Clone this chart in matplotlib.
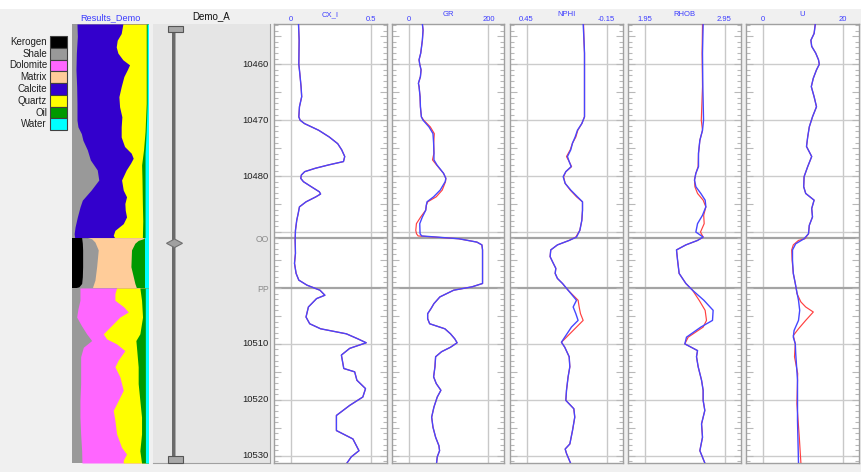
import numpy as np
import matplotlib
matplotlib.use('Agg')
import matplotlib.pyplot as plt
from matplotlib.patches import Rectangle, Polygon
from matplotlib.ticker import MultipleLocator
from matplotlib.transforms import blended_transform_factory

plt.rcParams['font.family'] = ['Liberation Sans', 'DejaVu Sans']

W, H = 861, 472
D_TOP, D_BOT = 10452.8, 10531.3

# ---------------- legend / lithology ----------------
litho_names = ['Kerogen', 'Shale', 'Dolomite', 'Matrix', 'Calcite', 'Quartz', 'Oil', 'Water']
litho_colors = ['#000000', '#999999', '#ff66ff', '#ffcc99', '#3300cc', '#ffff00', '#009900', '#00ffff']
C = dict(zip(litho_names, litho_colors))

# cumulative volume edges (% of track width), upper zone (above OO)
up_shale_d = [10452.8, 10455.0, 10458.0, 10461.0, 10464.0, 10467.0, 10470.0, 10471.2, 10472.4, 10473.6, 10475.3,
              10477.1, 10478.9, 10480.7, 10482.5, 10484.3, 10485.5, 10487.3, 10489.1, 10490.3, 10491.0]
up_shale_v = [6.5, 7.0, 5.7, 5.2, 6.1, 6.5, 6.5, 7.8, 12.2, 14.3, 20.0, 24.0, 33.0, 35.0, 25.0, 13.5, 10.5, 7.0,
              4.0, 2.8, 3.5]
up_calcite_d = [10452.8, 10454.5, 10455.7, 10456.9, 10458.0, 10459.2, 10460.1, 10461.0, 10462.2, 10464.0, 10465.8,
                10467.6, 10469.4, 10471.2, 10473.0, 10474.7, 10475.9, 10476.8, 10477.7, 10478.9, 10480.7, 10482.5,
                10483.7, 10484.9, 10486.1, 10487.3, 10488.5, 10489.7, 10490.6, 10491.0]
up_calcite_v = [66.5, 64.3, 59.1, 57.8, 60.0, 66.5, 75.2, 72.2, 67.8, 64.3, 61.3, 62.2, 65.2, 64.3, 64.3, 68.7,
                77.4, 80.0, 76.5, 70.9, 64.8, 67.0, 71.3, 69.1, 69.6, 71.3, 67.0, 56.1, 53.9, 55.7]
up_quartz_d = [10452.8, 10467.0, 10472.0, 10475.3, 10478.0, 10480.7, 10485.0, 10488.0, 10491.0]
up_quartz_v = [97.0, 97.0, 95.5, 93.5, 91.0, 91.5, 92.0, 92.5, 92.0]
up_oil_d = [10452.8, 10467.0, 10472.0, 10475.9, 10491.0]
up_oil_v = [98.3, 98.3, 97.0, 95.5, 95.5]

# middle zone (OO - PP)
mid_kerogen_d = [10491.0, 10492.0, 10493.2, 10496.2, 10498.0, 10499.2, 10499.8, 10500.0]
mid_kerogen_v = [12.6, 13.5, 13.9, 13.9, 13.5, 12.6, 9.0, 3.0]
mid_shale_d = [10491.0, 10491.2, 10491.8, 10493.2, 10496.2, 10498.6, 10499.8, 10500.0]
mid_shale_v = [20.0, 25.7, 30.0, 34.3, 32.2, 30.0, 27.0, 27.0]
mid_matrix_d = [10491.0, 10491.2, 10491.5, 10492.0, 10493.2, 10496.2, 10499.2, 10500.0]
mid_matrix_v = [95.0, 93.0, 86.5, 82.2, 77.8, 77.0, 82.2, 84.3]
mid_oil_d = [10491.0, 10500.0]
mid_oil_v = [95.2, 95.2]

# lower zone (below PP)
low_shale_d = [10500.0, 10502.2, 10503.7, 10505.2, 10506.7, 10508.2, 10509.4, 10510.6, 10512.3, 10517.1, 10520.1,
               10523.1, 10526.1, 10529.1, 10531.3]
low_shale_v = [10.4, 10.4, 7.8, 6.1, 12.2, 19.1, 25.7, 14.8, 11.3, 11.3, 10.4, 10.4, 11.3, 12.6, 13.0]
low_dolomite_d = [10500.0, 10501.0, 10502.2, 10503.4, 10504.3, 10505.2, 10507.0, 10508.2, 10509.1, 10510.0,
                  10511.2, 10512.9, 10514.1, 10515.9, 10518.3, 10520.7, 10521.9, 10523.7, 10526.1, 10528.5,
                  10529.7, 10530.8, 10531.3]
low_dolomite_v = [58.3, 56.1, 56.1, 67.8, 73.5, 62.6, 49.6, 40.9, 45.2, 58.3, 69.1, 60.4, 56.1, 62.6, 67.0, 58.3,
                  53.9, 56.1, 58.3, 64.8, 71.3, 67.0, 67.0]
low_quartz_d = [10500.0, 10502.2, 10505.2, 10508.2, 10509.4, 10510.6, 10514.1, 10517.1, 10520.1, 10523.1, 10526.1,
                10529.1, 10531.3]
low_quartz_v = [88.7, 90.9, 92.2, 88.7, 83.5, 84.3, 86.5, 86.5, 88.7, 90.9, 90.9, 88.7, 90.9]
low_oil_d = [10500.0, 10531.3]
low_oil_v = [95.8, 96.0]

# ---------------- log curves ----------------
track_names = ['CX_I', 'GR', 'NPHI', 'RHOB', 'U']
track_scales = [(0, 0.5), (0, 200), (0.45, -0.15), (1.95, 2.95), (0, 20)]
scale_labels = [('0', '0.5'), ('0', '200'), ('0.45', '-0.15'), ('1.95', '2.95'), ('0', '20')]

cx_d = [10452.8, 10455.7, 10460.0, 10461.6, 10464.0, 10465.8, 10467.6, 10469.4, 10470.0, 10470.6, 10471.8,
        10473.0, 10474.2, 10475.3, 10476.5, 10477.4, 10478.0, 10478.6, 10479.2, 10479.8, 10480.4, 10481.0,
        10481.9, 10482.8, 10483.2, 10483.7, 10484.6, 10485.5, 10486.7, 10487.9, 10489.7, 10491.5, 10493.8,
        10495.6, 10497.4, 10498.6, 10499.5, 10500.4, 10501.3, 10501.9, 10503.4, 10505.2, 10506.4, 10507.3,
        10508.2, 10509.1, 10509.8, 10510.8, 10512.0, 10514.4, 10515.0, 10516.5, 10518.0, 10519.5, 10521.0,
        10522.8, 10525.5, 10527.0, 10529.1, 10530.2, 10531.3]
cx_v = [0.050, 0.054, 0.052, 0.058, 0.066, 0.070, 0.056, 0.052, 0.060, 0.087, 0.176, 0.242, 0.295, 0.320, 0.339,
        0.331, 0.238, 0.155, 0.089, 0.068, 0.064, 0.081, 0.130, 0.180, 0.188, 0.159, 0.097, 0.056, 0.048, 0.039,
        0.031, 0.029, 0.031, 0.025, 0.035, 0.052, 0.103, 0.184, 0.215, 0.163, 0.112, 0.097, 0.120, 0.188, 0.349,
        0.421, 0.473, 0.370, 0.318, 0.333, 0.401, 0.415, 0.469, 0.452, 0.370, 0.287, 0.287, 0.390, 0.428, 0.380,
        0.353]

gr_d = [10452.8, 10453.9, 10455.7, 10458.0, 10459.2, 10460.0, 10461.0, 10462.2, 10463.4, 10464.0, 10465.8,
        10467.6, 10469.4, 10470.0, 10471.2, 10472.4, 10474.1, 10475.9, 10477.1, 10478.0, 10479.5, 10480.4,
        10481.0, 10482.5, 10483.7, 10484.6, 10485.2, 10486.1, 10487.3, 10488.5, 10490.3, 10490.7, 10491.2,
        10491.8, 10492.3, 10493.2, 10499.2, 10499.8, 10500.4, 10501.6, 10502.8, 10503.7, 10504.6, 10505.5,
        10506.4, 10507.3, 10508.2, 10509.1, 10509.8, 10510.6, 10511.4, 10512.3, 10514.1, 10515.9, 10517.1,
        10518.3, 10519.5, 10521.3, 10523.1, 10524.9, 10526.7, 10528.2, 10529.1, 10530.2, 10531.3]
gr_v = [34.7, 36.4, 34.7, 30.6, 26.4, 28.1, 31.4, 29.8, 24.8, 26.4, 28.9, 29.8, 32.2, 36.4, 51.2, 61.2, 62.8,
        63.6, 63.6, 71.1, 87.6, 93.4, 91.7, 79.3, 62.8, 46.3, 44.6, 43.0, 34.7, 28.1, 28.9, 33.0, 125.6, 171.0,
        183.5, 185.1, 185.1, 158.7, 113.0, 78.5, 63.6, 56.2, 47.9, 47.9, 52.9, 90.9, 105.0, 115.7, 121.5, 105.0,
        82.6, 67.8, 66.1, 62.8, 69.4, 81.0, 71.9, 63.6, 57.9, 61.2, 67.8, 76.0, 77.7, 71.9, 70.2]
gr_red_d = [10452.8, 10453.9, 10455.7, 10458.0, 10459.2, 10460.0, 10461.0, 10462.2, 10463.4, 10464.0, 10465.8,
            10467.6, 10469.4, 10470.0, 10471.2, 10472.4, 10474.1, 10475.9, 10477.1, 10478.0, 10479.5, 10480.4,
            10481.0, 10482.5, 10483.7, 10484.6, 10485.2, 10486.1, 10487.3, 10488.5, 10489.7, 10490.3, 10490.7,
            10491.2, 10491.8, 10492.3, 10493.2, 10499.2, 10499.8, 10500.4, 10501.6, 10502.8, 10503.7, 10504.6,
            10505.5, 10506.4, 10507.3, 10508.2, 10509.1, 10509.8, 10510.6, 10511.4, 10512.3, 10514.1, 10515.9,
            10517.1, 10518.3, 10519.5, 10521.3, 10523.1, 10524.9, 10526.7, 10528.2, 10529.1, 10530.2, 10531.3]
gr_red_v = [34.7, 36.4, 34.7, 30.6, 26.4, 28.1, 31.4, 29.8, 24.8, 26.4, 28.9, 29.8, 32.2, 38.0, 54.5, 64.5,
            63.0, 63.6, 60.0, 70.0, 87.6, 93.4, 92.5, 84.3, 69.4, 48.0, 44.6, 43.0, 30.6, 19.8, 18.2, 20.0, 24.0,
            125.6, 171.0, 183.5, 185.1, 185.1, 158.7, 113.0, 78.5, 63.6, 56.2, 47.9, 47.9, 52.9, 90.9, 105.0,
            115.7, 121.5, 105.0, 82.6, 67.8, 66.1, 62.8, 69.4, 81.0, 71.9, 63.6, 57.9, 61.2, 67.8, 76.0, 77.7,
            71.9, 70.2]

nphi_d = [10452.8, 10455.1, 10458.0, 10469.4, 10470.6, 10471.8, 10473.0, 10474.1, 10475.3, 10476.5, 10477.4,
          10478.3, 10479.2, 10480.1, 10481.3, 10482.5, 10483.7, 10484.6, 10486.1, 10487.9, 10489.7, 10490.9,
          10491.5, 10492.3, 10493.2, 10494.4, 10495.3, 10496.5, 10497.4, 10498.3, 10499.2, 10500.4, 10502.2,
          10503.4, 10504.6, 10505.8, 10507.0, 10508.8, 10509.7, 10510.6, 10512.3, 10514.1, 10515.9, 10518.3,
          10520.1, 10521.6, 10523.1, 10525.5, 10527.9, 10528.8, 10529.6, 10531.3]
nphi_v = [0.025, 0.020, 0.015, 0.015, 0.035, 0.068, 0.085, 0.105, 0.118, 0.143, 0.130, 0.115, 0.155, 0.175,
          0.160, 0.118, 0.068, 0.030, 0.030, 0.035, 0.050, 0.075, 0.130, 0.218, 0.268, 0.273, 0.255, 0.230,
          0.235, 0.218, 0.180, 0.138, 0.075, 0.100, 0.080, 0.063, 0.113, 0.163, 0.188, 0.163, 0.130, 0.125,
          0.138, 0.150, 0.155, 0.095, 0.088, 0.105, 0.125, 0.160, 0.150, 0.120]
nphi_red_v = [0.022, 0.020, 0.015, 0.015, 0.035, 0.065, 0.080, 0.105, 0.122, 0.150, 0.130, 0.112, 0.155, 0.172,
              0.160, 0.122, 0.075, 0.030, 0.030, 0.035, 0.050, 0.080, 0.130, 0.218, 0.268, 0.273, 0.255, 0.230,
              0.235, 0.218, 0.180, 0.138, 0.063, 0.055, 0.045, 0.025, 0.075, 0.150, 0.188, 0.163, 0.130, 0.125,
              0.138, 0.150, 0.155, 0.095, 0.088, 0.105, 0.125, 0.160, 0.150, 0.120]

rhob_d = [10452.8, 10458.0, 10464.0, 10470.0, 10471.8, 10473.6, 10475.9, 10478.3, 10479.5, 10480.7, 10481.9,
          10483.1, 10484.3, 10485.5, 10487.0, 10488.5, 10490.0, 10490.9, 10491.5, 10492.3, 10493.2, 10495.0,
          10497.4, 10499.2, 10500.4, 10502.2, 10504.0, 10505.8, 10507.0, 10508.8, 10510.0, 10511.2, 10512.3,
          10514.1, 10516.5, 10518.3, 10520.1, 10521.9, 10524.3, 10526.7, 10529.1, 10531.3]
rhob_v = [2.683, 2.675, 2.679, 2.688, 2.675, 2.642, 2.625, 2.625, 2.592, 2.575, 2.592, 2.654, 2.708, 2.717,
          2.675, 2.613, 2.592, 2.683, 2.613, 2.467, 2.350, 2.363, 2.383, 2.467, 2.550, 2.692, 2.808, 2.800,
          2.654, 2.475, 2.454, 2.613, 2.600, 2.621, 2.663, 2.683, 2.683, 2.704, 2.663, 2.675, 2.642, 2.704]
rhob_red_v = [2.675, 2.670, 2.675, 2.660, 2.675, 2.642, 2.625, 2.620, 2.592, 2.575, 2.580, 2.613, 2.683, 2.717,
              2.690, 2.696, 2.650, 2.683, 2.613, 2.467, 2.350, 2.363, 2.383, 2.467, 2.550, 2.633, 2.708, 2.725,
              2.683, 2.496, 2.454, 2.613, 2.600, 2.621, 2.663, 2.683, 2.683, 2.704, 2.663, 2.675, 2.642, 2.704]

u_d = [10452.8, 10454.5, 10455.7, 10456.8, 10458.0, 10459.2, 10460.0, 10461.0, 10462.5, 10464.0, 10465.8,
       10467.6, 10469.4, 10471.2, 10473.0, 10474.7, 10476.5, 10478.3, 10480.1, 10481.9, 10483.1, 10484.3,
       10485.8, 10487.3, 10488.8, 10490.3, 10491.2, 10492.1, 10493.2, 10495.0, 10497.4, 10499.2, 10500.4,
       10502.2, 10504.0, 10505.8, 10507.6, 10508.8, 10510.0, 10511.7, 10516.5, 10523.7, 10531.3]
u_v = [13.2, 12.9, 12.1, 12.3, 13.3, 14.0, 14.2, 13.5, 12.7, 12.2, 12.9, 13.5, 12.5, 11.7, 11.3, 11.0, 12.3,
       11.3, 10.4, 10.3, 10.8, 12.9, 12.3, 12.5, 11.7, 11.5, 10.4, 8.3, 7.5, 7.5, 7.7, 8.2, 8.5, 9.0, 9.3, 9.0,
       7.9, 7.7, 8.2, 8.3, 8.75, 8.75, 9.0]
u_red_d = [10452.8, 10454.5, 10455.7, 10456.8, 10458.0, 10459.2, 10460.0, 10461.0, 10462.5, 10464.0, 10465.8,
           10467.6, 10469.4, 10471.2, 10473.0, 10474.7, 10476.5, 10478.3, 10480.1, 10481.9, 10483.1, 10484.3,
           10485.8, 10487.3, 10488.8, 10490.3, 10491.2, 10491.5, 10492.3, 10493.2, 10495.0, 10497.4, 10499.2,
           10500.4, 10501.0, 10502.5, 10503.4, 10504.3, 10505.8, 10507.3, 10508.5, 10510.0, 10512.3, 10515.3,
           10520.7, 10526.7, 10531.3]
u_red_v = [13.2, 12.9, 12.1, 12.3, 13.3, 14.0, 14.2, 13.5, 12.7, 12.2, 12.9, 13.5, 12.5, 11.7, 11.3, 11.0, 12.3,
           11.3, 10.4, 10.3, 10.8, 12.9, 12.3, 12.5, 11.7, 11.5, 10.6, 9.0, 7.7, 7.3, 7.4, 7.7, 8.2, 8.5, 8.6,
           9.6, 10.8, 12.7, 10.8, 9.0, 7.7, 8.2, 8.0, 8.8, 8.6, 9.2, 9.6]

curves_blue = [(cx_d, cx_v), (gr_d, gr_v), (nphi_d, nphi_v), (rhob_d, rhob_v), (u_d, u_v)]
curves_red = [(cx_d, cx_v), (gr_red_d, gr_red_v), (nphi_d, nphi_red_v), (rhob_d, rhob_red_v), (u_red_d, u_red_v)]

depth_labels = [10460, 10470, 10480, 10510, 10520, 10530]
grid_depths = [10460, 10470, 10480, 10490, 10510, 10520, 10530]
marker_names = ['OO', 'PP']
marker_depths = [10491.0, 10500.0]

# ---------------- figure ----------------
fig = plt.figure(figsize=(W / 100, H / 100), dpi=100, facecolor='#f0f0f0')
fig.patches.append(Rectangle((0, 1 - 8.5 / H), 1, 8.5 / H, transform=fig.transFigure,
                             facecolor='white', edgecolor='none', zorder=0))


def px_axes(l, t, r, b, **kw):
    return fig.add_axes([l / W, 1 - b / H, (r - l) / W, (b - t) / H], **kw)


TOP, BOT = 24, 463

# lithology track
lax = px_axes(72, TOP, 148.5, BOT)
lax.set_xlim(0, 100)
lax.set_ylim(D_BOT, D_TOP)
lax.axis('off')


def paint(layers):
    for (d, v), col in layers:
        lax.fill_betweenx(d, v, 100, color=col, lw=0, antialiased=True)


paint([(([D_TOP, 10491.0], [0, 0]), C['Shale']),
       ((up_shale_d, up_shale_v), C['Calcite']),
       ((up_calcite_d, up_calcite_v), C['Quartz']),
       ((up_quartz_d, up_quartz_v), C['Oil']),
       ((up_oil_d, up_oil_v), C['Water'])])
paint([(([10491.0, 10500.0], [0, 0]), C['Kerogen']),
       ((mid_kerogen_d, mid_kerogen_v), C['Shale']),
       ((mid_shale_d, mid_shale_v), C['Matrix']),
       ((mid_matrix_d, mid_matrix_v), C['Oil']),
       ((mid_oil_d, mid_oil_v), C['Water'])])
paint([(([10500.0, D_BOT], [0, 0]), C['Shale']),
       ((low_shale_d, low_shale_v), C['Dolomite']),
       ((low_dolomite_d, low_dolomite_v), C['Quartz']),
       ((low_quartz_d, low_quartz_v), C['Oil']),
       ((low_oil_d, low_oil_v), C['Water'])])

# depth panel
dax = px_axes(153, TOP, 270, BOT, facecolor='#e5e5e5')
dax.set_ylim(D_BOT, D_TOP)
dax.set_xlim(0, 1)
dax.set_xticks([])
dax.set_yticks([])
for s in ['top', 'left']:
    dax.spines[s].set_visible(False)
for s in ['right', 'bottom']:
    dax.spines[s].set_color('#a0a0a0')
dtr = blended_transform_factory(dax.transAxes, dax.transData)
for d in depth_labels:
    dax.text(0.99, d, str(d), transform=dtr, ha='right', va='center', fontsize=6.8, color='#202020')
for name, d in zip(marker_names, marker_depths):
    dax.text(0.99, d + 0.35, name, transform=dtr, ha='right', va='center', fontsize=6.2, color='#8c8c8c')

# log tracks
track_left = [273.5, 391.5, 509.5, 627.5, 745.5]
TW = 113
for i, L in enumerate(track_left):
    ax = px_axes(L, TOP, L + TW, BOT, facecolor='white')
    v0, v1 = track_scales[i]
    span = v1 - v0
    ax.set_xlim(v0 - 17 / 80 * span, v1 + 16 / 80 * span)
    ax.set_ylim(D_BOT, D_TOP)
    ax.set_xticks([])
    ax.yaxis.set_major_locator(MultipleLocator(5))
    ax.yaxis.set_minor_locator(MultipleLocator(1))
    ax.tick_params(axis='y', which='both', direction='in', left=True, right=True,
                   labelleft=False, labelright=False, color='#b8b8b8', width=0.8)
    ax.tick_params(axis='y', which='major', length=5)
    ax.tick_params(axis='y', which='minor', length=2.8)
    for s in ax.spines.values():
        s.set_color('#a0a0a0')
        s.set_linewidth(1.0)
    for v in (v0, v1):
        ax.axvline(v, color='#c8c8c8', lw=1.0, zorder=1)
    for d in grid_depths:
        ax.axhline(d, color='#cccccc', lw=1.0, zorder=1)
    for d in marker_depths:
        ax.axhline(d, color='#a4a4a4', lw=1.6, zorder=1)
    rd, rv = curves_red[i]
    bd, bv = curves_blue[i]
    ax.plot(rv, rd, color='#ff4040', lw=0.85, zorder=3)
    ax.plot(bv, bd, color='#4646ff', lw=1.0, zorder=4)

# overlay (header text, legend, slider) in pixel coordinates
ov = fig.add_axes([0, 0, 1, 1], zorder=20)
ov.set_xlim(0, W)
ov.set_ylim(H, 0)
ov.axis('off')
ov.patch.set_alpha(0)

ov.text(110, 17.5, 'Results_Demo', ha='center', va='center', fontsize=6.6, color='#3c3cff')
ov.text(211, 16.5, 'Demo_A', ha='center', va='center', fontsize=7, color='#101010')
for i, L in enumerate(track_left):
    ov.text(L + TW / 2, 14.5, track_names[i], ha='center', va='center', fontsize=5.5, color='#3c3cff')
    ov.text(L + 17, 19.5, scale_labels[i][0], ha='center', va='center', fontsize=5.5, color='#3c3cff')
    ov.text(L + 97, 19.5, scale_labels[i][1], ha='center', va='center', fontsize=5.5, color='#3c3cff')

# legend swatches
for k, (nm, col) in enumerate(zip(litho_names, litho_colors)):
    y0 = 36 + k * 11.75
    ov.add_patch(Rectangle((50, y0), 17, 11.75, facecolor=col, edgecolor='#404040', lw=0.8))
    ov.text(47, y0 + 6, nm, ha='right', va='center', fontsize=7, color='#202020')

# slider
ov.add_patch(Rectangle((172.3, 30), 2.6, 428, facecolor='#6a6a6a', edgecolor='none'))
ov.add_patch(Rectangle((174.9, 30), 0.9, 428, facecolor='#a8a8a8', edgecolor='none'))
ov.add_patch(Rectangle((167.5, 25.5), 15.5, 6.5, facecolor='#a8a8a8', edgecolor='#555555', lw=0.8))
ov.add_patch(Rectangle((167.5, 456.3), 15.5, 6.5, facecolor='#a8a8a8', edgecolor='#555555', lw=0.8))
ov.add_patch(Polygon([(166.5, 243.3), (174.5, 239.0), (182.5, 243.3), (174.5, 247.6)], closed=True,
                     facecolor='#a0a0a0', edgecolor='#707070', lw=0.8))

fig.savefig('out.png', dpi=100, facecolor=fig.get_facecolor())
